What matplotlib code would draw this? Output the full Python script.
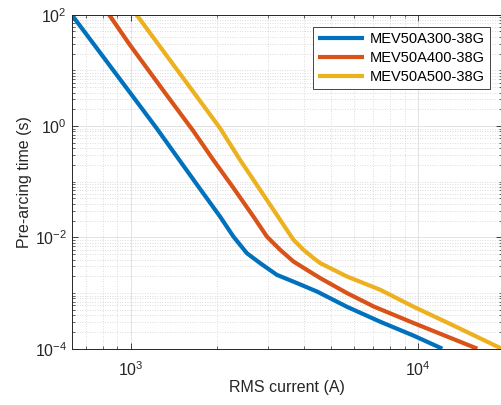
import numpy as np
import matplotlib
matplotlib.use('Agg')
import matplotlib.pyplot as plt
from matplotlib.ticker import LogLocator, NullFormatter, LogFormatterSciNotation

plt.rcParams['font.family'] = ['Liberation Sans', 'DejaVu Sans']
plt.rcParams['mathtext.fontset'] = 'custom'
plt.rcParams['mathtext.rm'] = 'Liberation Sans'
plt.rcParams['mathtext.it'] = 'Liberation Sans'
plt.rcParams['mathtext.default'] = 'regular'

# values (current in A, time in s)
labels = ['MEV50A300-38G', 'MEV50A400-38G', 'MEV50A500-38G']
colors = ['#0072BD', '#D95319', '#EDB120']

i300 = [624, 995, 1232, 1486, 1745, 2049, 2280, 2539, 2825, 3230, 3793, 4455,
        5668, 7405, 9676, 12160]
t300 = [100, 4.0, 0.914, 0.236, 0.0743, 0.0236, 0.01033, 0.0052, 0.00344, 0.00212,
        0.00151, 0.001064, 0.000565, 0.000304, 0.000171, 0.0001]

i400 = [842, 995, 1335, 1653, 1941, 2280, 2677, 2982, 3317, 3690, 4111, 4575,
        5668, 7018, 9676, 16100]
t400 = [100, 28.6, 3.61, 0.817, 0.246, 0.0774, 0.0236, 0.01033, 0.00597, 0.00368,
        0.0026, 0.00185, 0.000996, 0.000573, 0.000288, 0.0001]

i500 = [1049, 2049, 2405, 2825, 3317, 3690, 3999, 4335, 4575, 5668, 7405, 9676,
        12650, 19570]
t500 = [100, 0.914, 0.246, 0.0713, 0.0206, 0.00902, 0.00597, 0.00424, 0.00344,
        0.00198, 0.00114, 0.000565, 0.000295, 0.0001]

series = [(i300, t300), (i400, t400), (i500, t500)]

fig = plt.figure(figsize=(5.01, 4.05), dpi=100)
ax = fig.add_axes([71.7 / 501, 56.3 / 405, 430 / 501, 334 / 405])

for (x, y), c, lab in zip(series, colors, labels):
    ax.plot(x, y, color=c, lw=3, label=lab, solid_joinstyle='round', solid_capstyle='butt')

ax.set_xscale('log')
ax.set_yscale('log')
ax.set_xlim(624, 19570)
ax.set_ylim(1e-4, 1e2)
ax.set_yticks([1e-4, 1e-2, 1, 1e2])
ax.yaxis.set_minor_locator(LogLocator(base=10, subs=np.arange(1, 10), numticks=50))
ax.yaxis.set_minor_formatter(NullFormatter())
ax.yaxis.set_major_formatter(LogFormatterSciNotation())
ax.xaxis.set_minor_locator(LogLocator(base=10, subs=np.arange(2, 10), numticks=50))
ax.xaxis.set_minor_formatter(NullFormatter())

ax.grid(True, which='major', color='#dedede', lw=0.6, ls='-')
ax.grid(True, which='minor', color='#d0d0d0', lw=0.6, ls=(0, (1, 2)))
ax.set_axisbelow(True)

ax.tick_params(which='both', direction='in', top=True, right=True, colors='#262626',
               labelsize=11.5)
ax.tick_params(which='major', length=4.5, width=0.6)
ax.tick_params(which='minor', length=2.5, width=0.5)
ax.tick_params(axis='x', pad=8)
for s in ax.spines.values():
    s.set_color('#262626')
    s.set_linewidth(0.7)

ax.set_xlabel('RMS current (A)', fontsize=11.5, color='#262626', labelpad=1)
ax.set_ylabel('Pre-arcing time (s)', fontsize=11.5, color='#262626', labelpad=2)

leg = ax.legend(loc='upper right', bbox_to_anchor=(0.972, 0.963), borderaxespad=0,
                fontsize=10.5, handlelength=3.2, handletextpad=0.35, labelspacing=0.35,
                fancybox=False, framealpha=1, edgecolor='#262626', borderpad=0.35)
leg.get_frame().set_linewidth(0.6)

fig.savefig('out.png', dpi=100)
